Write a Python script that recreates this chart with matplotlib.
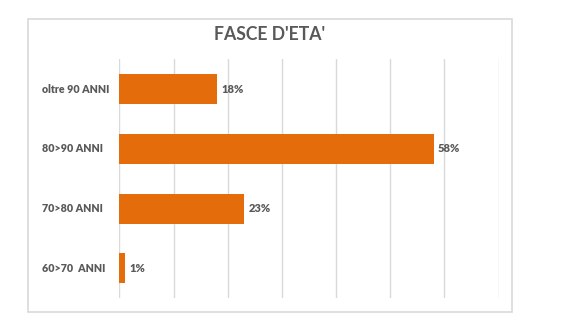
import matplotlib
matplotlib.use("Agg")
import matplotlib.pyplot as plt
from matplotlib.patches import Rectangle

plt.rcParams['font.family'] = ['Lato', 'DejaVu Sans']

# age groups, bottom to top
categories = ["60>70  ANNI", "70>80 ANNI", "80>90 ANNI", "oltre 90 ANNI"]
values = [1, 23, 58, 18]
grid_ticks = [0, 10, 20, 30, 40, 50, 60, 70]

bar_color = '#e46c0a'
text_color = '#595959'
line_color = '#d9d9d9'

fig = plt.figure(figsize=(5.88, 3.23), dpi=100)
fig.patch.set_facecolor('white')

# outer chart frame
fig.patches.append(Rectangle((0.0476, 0.035), 0.8231, 0.905, transform=fig.transFigure,
                             fill=False, edgecolor=line_color, linewidth=1.2))

ax = fig.add_axes([0.2032, 0.0765, 0.6446, 0.7399])
ypos = range(len(categories))
ax.barh(ypos, values, height=0.5, color=bar_color, zorder=3)

ax.set_xlim(0, 70)
ax.set_ylim(-0.5, len(categories) - 0.5)
ax.set_xticks(grid_ticks)
ax.set_xticklabels([])
ax.set_yticks([])
ax.tick_params(length=0)
ax.grid(axis='x', color=line_color, linewidth=1, zorder=0)
for s in ax.spines.values():
    s.set_visible(False)

# category names, left aligned
for y, c in zip(ypos, categories):
    ax.text(-0.205, y, c, transform=ax.get_yaxis_transform(), ha='left', va='center',
            fontsize=7.7, fontweight='heavy', color=text_color)

# value labels
for y, v in zip(ypos, values):
    ax.text(v + 0.8, y, f"{v}%", ha='left', va='center',
            fontsize=8, fontweight='heavy', color=text_color)

fig.text(0.459, 0.894, "FASCE D'ETA'", ha='center', va='center',
         fontsize=12.7, fontweight='bold', color=text_color)

fig.savefig("out.png", dpi=100)
